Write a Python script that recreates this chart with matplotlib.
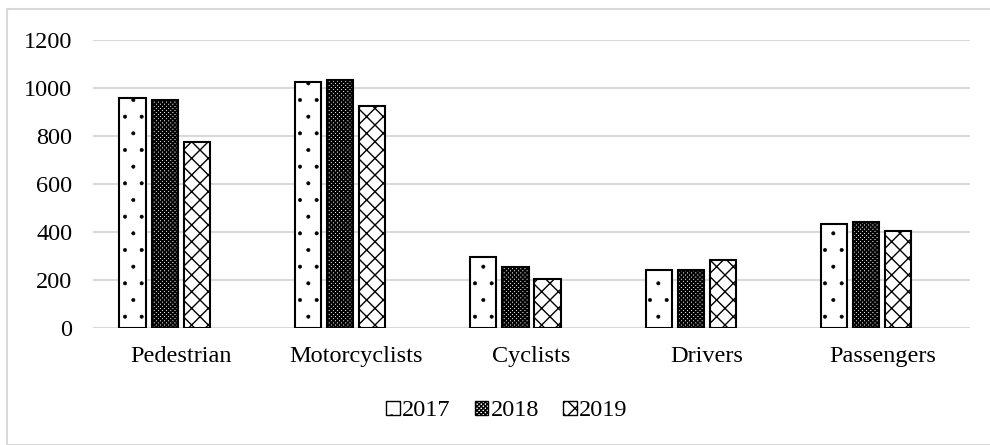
import matplotlib
matplotlib.use("Agg")
import matplotlib.pyplot as plt
import numpy as np
from matplotlib.patches import Rectangle, Patch

plt.rcParams['font.family'] = ['Liberation Serif', 'DejaVu Serif']

categories = ['Pedestrian', 'Motorcyclists', 'Cyclists', 'Drivers', 'Passengers']
years = ['2017', '2018', '2019']
v2017 = [958, 1024, 294, 241, 433]
v2018 = [952, 1035, 254, 240, 442]
v2019 = [775, 926, 203, 283, 406]
yticks = [0, 200, 400, 600, 800, 1000, 1200]

series = [v2017, v2018, v2019]
hatches = ['.', 'xxxxxxxx', 'xx']
hatch_lw = [0.4, 1.3, 1.0]
fs = 17.5

fig = plt.figure(figsize=(9.9, 4.45), dpi=100)
# outer chart border
fig.patches.append(Rectangle((7 / 990, 0), 1.0, 1 - 9 / 445, transform=fig.transFigure,
                             fill=False, edgecolor='#d9d9d9', linewidth=1.5))

ax = fig.add_axes([93 / 990, 1 - 328 / 445, 877 / 990, 288 / 445])
x = np.arange(len(categories))
w = 0.149
pitch = 0.183
# Excel layout leaves room for a 4th (empty) slot, so groups sit left of centre
handles = []
for i, (vals, h, hl) in enumerate(zip(series, hatches, hatch_lw)):
    plt.rcParams['hatch.linewidth'] = hl
    ax.bar(x + (i - 1.5) * pitch, vals, width=w, facecolor='white', edgecolor='black',
           hatch=h, linewidth=1.5, zorder=3)
    handles.append(Patch(facecolor='white', edgecolor='black', hatch=h, label=years[i]))

ax.set_xlim(-0.5, len(categories) - 0.5)
ax.set_ylim(0, 1200)
ax.set_yticks(yticks)
ax.set_xticks(x)
ax.set_xticklabels(categories, fontsize=fs)
ax.tick_params(axis='y', labelsize=fs, length=0, pad=15)
ax.tick_params(axis='x', length=0, pad=13)
ax.grid(axis='y', color='#d9d9d9', linewidth=1.5, zorder=0)
for s in ax.spines.values():
    s.set_visible(False)

fig.legend(handles=handles, loc='center', bbox_to_anchor=(0.5 + 12 / 990, 1 - 411 / 445), ncol=3,
           frameon=False, fontsize=fs, handlelength=0.55, handleheight=0.55,
           handletextpad=0.1, columnspacing=1.0)

fig.savefig('out.png', dpi=100)
